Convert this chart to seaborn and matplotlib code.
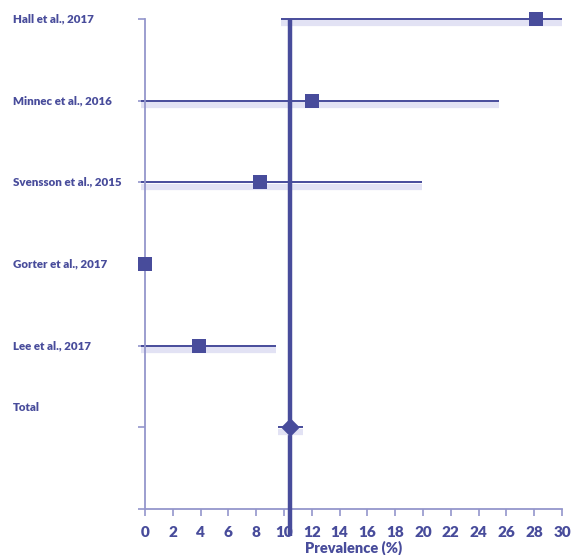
import matplotlib
matplotlib.use("Agg")
import matplotlib.pyplot as plt
import matplotlib.patheffects as pe
import matplotlib.transforms as mtransforms
import seaborn as sns
import pandas as pd

# Study estimates (prevalence, %) with confidence limits
studies = ["Hall et al., 2017", "Minnec et al., 2016", "Svensson et al., 2015",
           "Gorter et al., 2017", "Lee et al., 2017"]
estimates = [28.1, 12.0, 8.3, 0.0, 3.9]
lower = [9.8, -0.3, -0.3, 0.0, -0.3]
upper = [30.0, 25.5, 19.9, 0.0, 9.4]

total_label = "Total"
total_estimate = 10.4
total_lower = 9.6
total_upper = 11.4

xticks = list(range(0, 31, 2))

dark = "#484c9b"
light = "#9496cc"
shadow = "#e2e2f4"

sns.set_theme(style="white")
plt.rcParams["font.family"] = ["Lato", "DejaVu Sans"]

rows = list(range(len(studies) + 1, 1, -1))  # 6..2 from top
df = pd.DataFrame({"study": studies, "est": estimates, "lo": lower,
                   "hi": upper, "row": rows})

fig = plt.figure(figsize=(5.71, 5.55), dpi=100)
ax = fig.add_axes([145 / 571, 1 - 509 / 555, (562 - 145) / 571, (509 - 19) / 555])

line_fx = [pe.SimpleLineShadow(offset=(0, -3), shadow_color=shadow, alpha=1.0,
                               linewidth=4.5), pe.Normal()]

# Confidence interval whiskers
for _, r in df.iterrows():
    if r["hi"] > r["lo"]:
        ax.hlines(r["row"], r["lo"], r["hi"], color=dark, lw=1.4,
                  path_effects=line_fx, clip_on=False, zorder=2)

# Pooled estimate reference line
ax.vlines(total_estimate, -0.33, 6, color=dark, lw=3.2, clip_on=False, zorder=3)
ax.hlines(1, total_lower, total_upper, color=dark, lw=1.4, zorder=3,
          path_effects=line_fx)

sns.scatterplot(data=df, x="est", y="row", marker="s", s=95, color=dark,
                edgecolor=dark, linewidth=0, ax=ax, zorder=5, clip_on=False)
sns.scatterplot(x=[total_estimate], y=[1], marker="D", s=90, color=dark,
                edgecolor=dark, linewidth=0, ax=ax, zorder=5, clip_on=False)

ax.set_xlim(0, 30)
ax.set_ylim(0, 6)
ax.set_xticks(xticks)
ax.set_xticklabels([str(t) for t in xticks], fontsize=11, fontweight="heavy",
                   color=dark)
ax.set_yticks(range(0, 7))
ax.set_yticklabels([])
ax.tick_params(axis="both", which="both", length=5, width=1.2, color=light,
               direction="out", bottom=True, left=True, pad=7)

for side in ["top", "right"]:
    ax.spines[side].set_visible(False)
for side in ["left", "bottom"]:
    ax.spines[side].set_color(light)
    ax.spines[side].set_linewidth(1.3)

ax.set_xlabel("Prevalence (%)", fontsize=10.5, fontweight="heavy", color=dark,
              labelpad=1)
ax.set_ylabel("")

# Study names along the left margin
trans = mtransforms.blended_transform_factory(fig.transFigure, ax.transData)
for _, r in df.iterrows():
    ax.text(13 / 571, r["row"], r["study"], transform=trans, ha="left",
            va="center", fontsize=8.3, fontweight="heavy", color=dark)
ax.text(13 / 571, 1.24, total_label, transform=trans, ha="left", va="center",
        fontsize=8.3, fontweight="heavy", color=dark)

fig.savefig("out.png", dpi=100, facecolor="white")
